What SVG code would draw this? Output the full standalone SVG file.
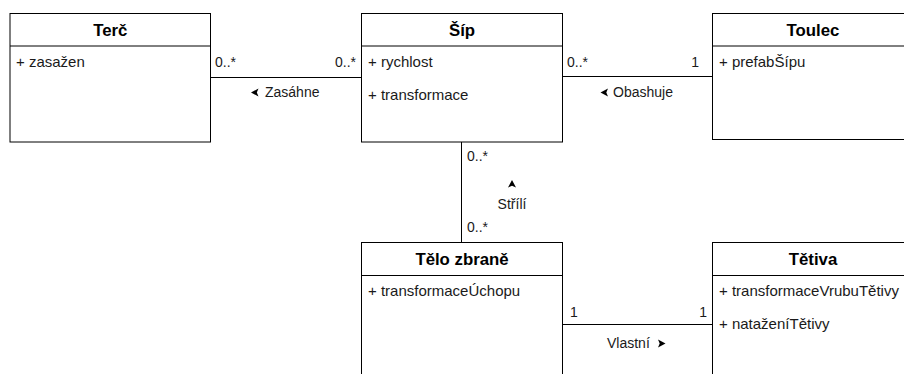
<svg xmlns="http://www.w3.org/2000/svg" width="904" height="374" viewBox="0 0 904 374">
  <style>
    .box { fill: #ffffff; stroke: #000000; stroke-width: 1; }
    .sep { stroke: #000000; stroke-width: 1; }
    .edge { stroke: #000000; stroke-width: 1; fill: none; }
    .title { font-family: "Liberation Sans", Arial, Helvetica, sans-serif; font-size: 16.8px; font-weight: bold; fill: #000000; text-anchor: middle; }
    .attr { font-family: "Liberation Sans", Arial, Helvetica, sans-serif; font-size: 15px; fill: #1a1a1a; }
    .lbl { font-family: "Liberation Sans", Arial, Helvetica, sans-serif; font-size: 14px; fill: #1a1a1a; }
    .mid { text-anchor: middle; }
    .end { text-anchor: end; }
    .head { fill: #000000; stroke: none; }
  </style>

  <!-- associations -->
  <g id="connectors">
    <!-- Terč - Šíp -->
    <line class="edge" x1="210.5" y1="77.5" x2="361.5" y2="77.5"/>
    <text class="lbl" x="215" y="67">0..*</text>
    <text class="lbl end" x="356" y="67">0..*</text>
    <path class="head" d="M251,92.5 L258.5,88.5 L256.8,92.5 L258.5,96.5 Z"/>
    <text class="lbl" x="265" y="97">Zasáhne</text>

    <!-- Šíp - Toulec -->
    <line class="edge" x1="562.5" y1="76.5" x2="712.5" y2="76.5"/>
    <text class="lbl" x="567" y="67">0..*</text>
    <text class="lbl end" x="699" y="67">1</text>
    <path class="head" d="M600.5,92.5 L608,88.5 L606.3,92.5 L608,96.5 Z"/>
    <text class="lbl" x="613" y="97">Obashuje</text>

    <!-- Šíp - Tělo zbraně -->
    <line class="edge" x1="461.5" y1="142" x2="461.5" y2="242.5"/>
    <text class="lbl" x="467" y="161">0..*</text>
    <text class="lbl" x="467" y="232">0..*</text>
    <path class="head" d="M512,180 L516,187.5 L512,185.8 L508,187.5 Z"/>
    <text class="lbl mid" x="512" y="209">Střílí</text>

    <!-- Tělo zbraně - Tětiva -->
    <line class="edge" x1="562.5" y1="324.5" x2="712.5" y2="324.5"/>
    <text class="lbl" x="570" y="317">1</text>
    <text class="lbl end" x="707" y="317">1</text>
    <text class="lbl" x="607" y="348">Vlastní</text>
    <path class="head" d="M665.5,343.5 L658,339.5 L659.7,343.5 L658,347.5 Z"/>
  </g>

  <!-- classes -->
  <g id="terc">
    <rect class="box" x="10" y="13.5" width="200.5" height="128.5"/>
    <line class="sep" x1="10" y1="46" x2="210.5" y2="46"/>
    <text class="title" x="110.25" y="36">Terč</text>
    <text class="attr" x="16" y="67">+ zasažen</text>
  </g>

  <g id="sip">
    <rect class="box" x="361.5" y="13.5" width="201" height="128.5"/>
    <line class="sep" x1="361.5" y1="46" x2="562.5" y2="46"/>
    <text class="title" x="462" y="36">Šíp</text>
    <text class="attr" x="368" y="67">+ rychlost</text>
    <text class="attr" x="368" y="100">+ transformace</text>
  </g>

  <g id="toulec">
    <rect class="box" x="712.5" y="13.5" width="201" height="126"/>
    <line class="sep" x1="712.5" y1="46" x2="913.5" y2="46"/>
    <text class="title" x="813" y="36">Toulec</text>
    <text class="attr" x="719" y="67">+ prefabŠípu</text>
  </g>

  <g id="telo-zbrane">
    <rect class="box" x="361.5" y="242.5" width="201" height="140"/>
    <line class="sep" x1="361.5" y1="275.5" x2="562.5" y2="275.5"/>
    <text class="title" x="462" y="265">Tělo zbraně</text>
    <text class="attr" x="368" y="296">+ transformaceÚchopu</text>
  </g>

  <g id="tetiva">
    <rect class="box" x="712.5" y="242.5" width="201" height="140"/>
    <line class="sep" x1="712.5" y1="275.5" x2="913.5" y2="275.5"/>
    <text class="title" x="813" y="265">Tětiva</text>
    <text class="attr" x="719" y="296">+ transformaceVrubuTětivy</text>
    <text class="attr" x="719" y="329">+ nataženíTětivy</text>
  </g>
</svg>
